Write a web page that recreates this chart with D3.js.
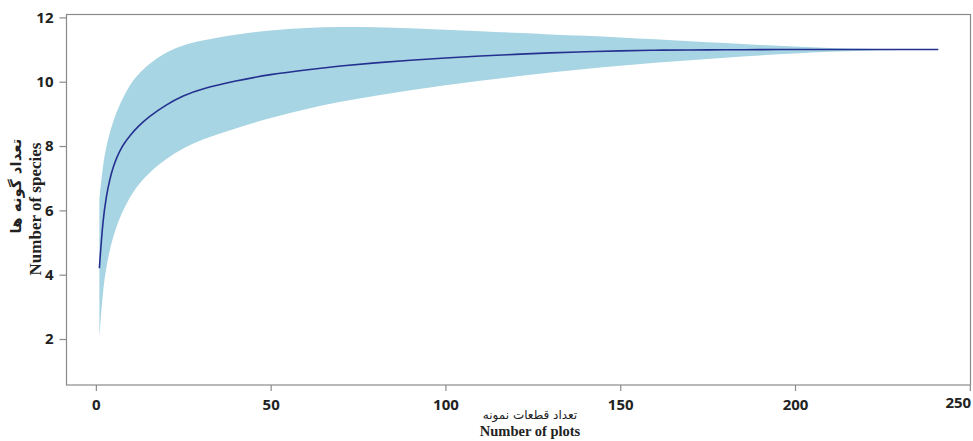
<!DOCTYPE html>
<html>
<head>
<meta charset="utf-8">
<script src="https://cdnjs.cloudflare.com/ajax/libs/d3/7.8.5/d3.min.js"></script>
<style>
	body { margin: 0; background: #fff; }
	.frame { fill: none; stroke: #8a8a8a; stroke-width: 1.2; }
	.tick line { stroke: #8a8a8a; stroke-width: 1.2; }
	.tick text { font-family: "Open Sans", sans-serif; font-weight: 700; font-size: 15px; fill: #222; }
	.lab-en { font-family: "Liberation Serif", serif; font-weight: 700; fill: #222; }
	.lab-fa { font-family: "DejaVu Sans", sans-serif; fill: #222; }
</style>
</head>
<body>
<svg id="chart" width="973" height="441"></svg>
<script>

// number of plots (x)
var plots = [1, 2, 3, 4, 5, 6, 7, 8, 10, 12, 15, 20, 25, 30, 40, 50, 60, 70, 80, 90, 100, 110, 120, 130, 140, 150, 160, 170, 180, 190, 200, 210, 220, 230, 241]

// mean number of species
var meanSpecies = [4.2, 5.7, 6.45, 6.98, 7.36, 7.65, 7.88, 8.07, 8.36, 8.6, 8.9, 9.28, 9.57, 9.77, 10.03, 10.23, 10.37, 10.49, 10.59, 10.67, 10.74, 10.8, 10.85, 10.9, 10.93, 10.96, 10.98, 10.99, 10.99, 11.0, 11.0, 11.0, 11.0, 11.0, 11.0]

// confidence band
var upperSpecies = [6.35, 7.4, 8.0, 8.42, 8.78, 9.08, 9.33, 9.55, 9.95, 10.21, 10.54, 10.92, 11.14, 11.28, 11.47, 11.6, 11.68, 11.71, 11.7, 11.66, 11.62, 11.57, 11.52, 11.47, 11.43, 11.38, 11.32, 11.26, 11.2, 11.14, 11.09, 11.05, 11.02, 11.0, 11.0]
var lowerSpecies = [2.05, 3.5, 4.25, 4.78, 5.19, 5.52, 5.8, 6.04, 6.46, 6.78, 7.15, 7.6, 7.93, 8.2, 8.55, 8.88, 9.15, 9.38, 9.57, 9.74, 9.89, 10.03, 10.16, 10.29, 10.4, 10.5, 10.59, 10.67, 10.75, 10.82, 10.88, 10.93, 10.97, 10.99, 11.0]

// tick labels
var xTicks = [0, 50, 100, 150, 200, 250]
var yTicks = [2, 4, 6, 8, 10, 12]

var xTitle = "Number of plots"
var xTitleFa = "تعداد قطعات نمونه"
var yTitle = "Number of species"
var yTitleFa = "تعداد گونه ها"

var svg = d3.select("#chart")

// plot box (note: "top" is reserved on window, so prefixed names)
var boxLeft = 66.5, boxRight = 970.5, boxTop = 14.5, boxBottom = 385

var x = d3.scaleLinear().domain([-8.4, 250.2]).range([boxLeft, boxRight])
var y = d3.scaleLinear().domain([0.57, 12.09]).range([boxBottom, boxTop])

var rows = plots.map(function (p, i) {
	return {x: p, m: meanSpecies[i], lo: lowerSpecies[i], hi: upperSpecies[i]}
})

// band
var area = d3.area()
	.curve(d3.curveBasis)
	.x(function (d) { return x(d.x) })
	.y0(function (d) { return y(d.lo) })
	.y1(function (d) { return y(d.hi) })

svg.append("path")
	.datum(rows)
	.attr("d", area)
	.attr("fill", "#a8d5e3")

// mean curve
var line = d3.line()
	.curve(d3.curveBasis)
	.x(function (d) { return x(d.x) })
	.y(function (d) { return y(d.m) })

svg.append("path")
	.datum(rows)
	.attr("d", line)
	.attr("fill", "none")
	.attr("stroke", "#24308f")
	.attr("stroke-width", 1.6)

// axes
var xAxis = svg.append("g")
	.attr("transform", "translate(0," + boxBottom + ")")
	.call(d3.axisBottom(x).tickValues(xTicks).tickSize(6).tickPadding(8))
xAxis.select(".domain").remove()

// last label sits against the edge in the original
xAxis.selectAll(".tick text")
	.filter(function (d) { return d == 250 })
	.attr("dx", -12)
	.attr("dy", "0.62em")

var yAxis = svg.append("g")
	.attr("transform", "translate(" + boxLeft + ",0)")
	.call(d3.axisLeft(y).tickValues(yTicks).tickSize(7).tickPadding(6))
yAxis.select(".domain").remove()

// frame
svg.append("rect")
	.attr("class", "frame")
	.attr("x", boxLeft)
	.attr("y", boxTop)
	.attr("width", boxRight - boxLeft)
	.attr("height", boxBottom - boxTop)

// titles
svg.append("text")
	.attr("class", "lab-fa")
	.attr("x", 530)
	.attr("y", 419)
	.attr("text-anchor", "middle")
	.attr("font-size", 12)
	.text(xTitleFa)

svg.append("text")
	.attr("class", "lab-en")
	.attr("x", 530)
	.attr("y", 436)
	.attr("text-anchor", "middle")
	.attr("font-size", 14.5)
	.text(xTitle)

svg.append("text")
	.attr("class", "lab-en")
	.attr("transform", "translate(41,209) rotate(-90)")
	.attr("text-anchor", "middle")
	.attr("font-size", 17)
	.text(yTitle)

svg.append("text")
	.attr("class", "lab-fa")
	.attr("transform", "translate(21,186) rotate(-90)")
	.attr("text-anchor", "middle")
	.attr("font-size", 15)
	.attr("font-weight", 700)
	.text(yTitleFa)

</script>
</body>
</html>
